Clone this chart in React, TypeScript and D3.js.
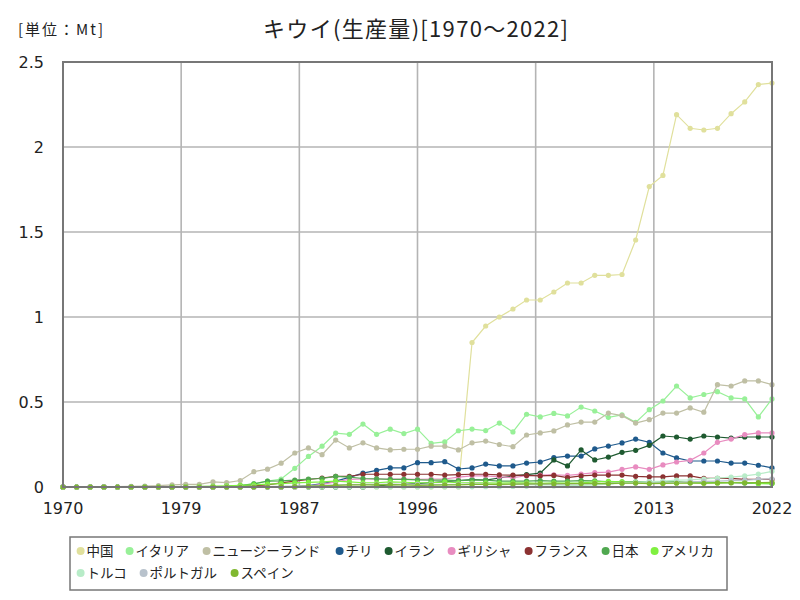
import React from "react";
import * as d3 from "d3";

const years: number[] = d3.range(1970, 2023);

const seriesNames: string[] = ["中国", "イタリア", "ニュージーランド", "チリ", "イラン", "ギリシャ", "フランス", "日本", "アメリカ", "トルコ", "ポルトガル", "スペイン"];
const seriesColors: string[] = ["#e0e09c", "#98f098", "#bfbfa4", "#1f5a8c", "#1e5a30", "#e88cc0", "#8c3232", "#50a850", "#80f040", "#b8ecc8", "#b8c2cc", "#80b830"];

const china: number[] = [
  0, 0, 0, 0, 0, 0, 0, 0, 0, 0,
  0, 0, 0, 0, 0, 0, 0, 0, 0, 0,
  0, 0, 0, 0, 0, 0, 0, 0, 0, 0,
  0.85, 0.947, 1.0, 1.047, 1.1, 1.1, 1.147, 1.2, 1.2, 1.245,
  1.245, 1.25, 1.453, 1.767, 1.833, 2.19, 2.11, 2.1, 2.11, 2.196,
  2.265, 2.367, 2.376,
];
const italy: number[] = [
  0, 0, 0, 0, 0, 0, 0, 0, 0, 0.001,
  0.002, 0.003, 0.004, 0.008, 0.02, 0.035, 0.047, 0.11, 0.18, 0.24,
  0.317, 0.31, 0.37, 0.31, 0.34, 0.314, 0.34, 0.257, 0.265, 0.331,
  0.341, 0.332, 0.376, 0.324, 0.428, 0.412, 0.433, 0.418, 0.47, 0.447,
  0.41, 0.424, 0.38, 0.455, 0.506, 0.594, 0.524, 0.544, 0.561, 0.524,
  0.518, 0.412, 0.518,
];
const newZealand: number[] = [
  0.001, 0.001, 0.002, 0.002, 0.003, 0.004, 0.006, 0.008, 0.012, 0.016,
  0.016, 0.03, 0.026, 0.038, 0.09, 0.105, 0.14, 0.2, 0.23, 0.19,
  0.276, 0.23, 0.26, 0.23, 0.218, 0.222, 0.222, 0.24, 0.24, 0.218,
  0.26, 0.27, 0.25, 0.237, 0.306, 0.318, 0.33, 0.365, 0.382, 0.382,
  0.435, 0.42, 0.376, 0.396, 0.435, 0.435, 0.465, 0.44, 0.602, 0.594,
  0.624, 0.624, 0.602,
];
const chile: number[] = [
  0, 0, 0, 0, 0, 0, 0, 0, 0, 0,
  0, 0, 0, 0, 0, 0, 0, 0.003, 0.008, 0.02,
  0.035, 0.057, 0.082, 0.098, 0.112, 0.112, 0.143, 0.143, 0.149, 0.106,
  0.112, 0.135, 0.124, 0.124, 0.141, 0.147, 0.173, 0.182, 0.182, 0.224,
  0.241, 0.259, 0.282, 0.263, 0.2, 0.171, 0.153, 0.153, 0.153, 0.141,
  0.141, 0.128, 0.112,
];
const iran: number[] = [
  0, 0, 0, 0, 0, 0, 0, 0, 0, 0,
  0, 0, 0, 0, 0, 0, 0, 0, 0, 0,
  0, 0, 0, 0.005, 0.014, 0.016, 0.02, 0.026, 0.032, 0.038,
  0.044, 0.04, 0.053, 0.065, 0.073, 0.082, 0.159, 0.124, 0.218, 0.159,
  0.176, 0.204, 0.216, 0.245, 0.3, 0.294, 0.282, 0.3, 0.294, 0.288,
  0.294, 0.294, 0.294,
];
const greece: number[] = [
  0, 0, 0, 0, 0, 0, 0, 0, 0, 0,
  0, 0, 0, 0, 0, 0, 0, 0, 0.005, 0.015,
  0.03, 0.045, 0.047, 0.047, 0.047, 0.047, 0.045, 0.047, 0.047, 0.058,
  0.066, 0.066, 0.06, 0.055, 0.066, 0.07, 0.072, 0.068, 0.076, 0.085,
  0.088, 0.104, 0.118, 0.104, 0.13, 0.147, 0.157, 0.2, 0.263, 0.282,
  0.308, 0.318, 0.318,
];
const france: number[] = [
  0, 0, 0, 0, 0, 0, 0, 0, 0, 0.001,
  0.001, 0.002, 0.003, 0.005, 0.008, 0.013, 0.024, 0.034, 0.044, 0.053,
  0.063, 0.063, 0.075, 0.075, 0.075, 0.075, 0.075, 0.075, 0.07, 0.073,
  0.075, 0.075, 0.071, 0.07, 0.068, 0.065, 0.068, 0.055, 0.065, 0.07,
  0.07, 0.07, 0.063, 0.06, 0.06, 0.065, 0.065, 0.051, 0.051, 0.051,
  0.045, 0.045, 0.045,
];
const japan: number[] = [
  0, 0, 0, 0, 0, 0, 0, 0, 0, 0,
  0.001, 0.002, 0.004, 0.008, 0.018, 0.034, 0.036, 0.04, 0.047, 0.05,
  0.063, 0.058, 0.05, 0.048, 0.045, 0.045, 0.042, 0.04, 0.04, 0.038,
  0.04, 0.04, 0.035, 0.035, 0.035, 0.037, 0.035, 0.035, 0.037, 0.036,
  0.03, 0.03, 0.03, 0.032, 0.03, 0.03, 0.027, 0.03, 0.026, 0.025,
  0.023, 0.021, 0.02,
];
const usa: number[] = [
  0, 0, 0, 0, 0, 0, 0.001, 0.001, 0.002, 0.003,
  0.004, 0.005, 0.007, 0.01, 0.013, 0.017, 0.02, 0.024, 0.027, 0.03,
  0.035, 0.03, 0.025, 0.025, 0.03, 0.028, 0.025, 0.025, 0.03, 0.025,
  0.025, 0.024, 0.023, 0.025, 0.024, 0.022, 0.025, 0.023, 0.024, 0.03,
  0.033, 0.03, 0.026, 0.026, 0.025, 0.027, 0.025, 0.023, 0.024, 0.026,
  0.028, 0.02, 0.02,
];
const turkey: number[] = [
  0, 0, 0, 0, 0, 0, 0, 0, 0, 0,
  0, 0, 0, 0, 0, 0, 0, 0, 0, 0,
  0, 0, 0, 0, 0, 0, 0, 0.001, 0.001, 0.001,
  0.001, 0.002, 0.002, 0.003, 0.004, 0.005, 0.006, 0.008, 0.01, 0.012,
  0.017, 0.022, 0.027, 0.032, 0.035, 0.04, 0.042, 0.047, 0.052, 0.058,
  0.066, 0.076, 0.092,
];
const portugal: number[] = [
  0, 0, 0, 0, 0, 0, 0, 0, 0, 0,
  0, 0, 0, 0, 0.001, 0.002, 0.004, 0.006, 0.008, 0.01,
  0.012, 0.014, 0.015, 0.016, 0.017, 0.016, 0.015, 0.016, 0.014, 0.016,
  0.018, 0.016, 0.013, 0.015, 0.017, 0.015, 0.016, 0.017, 0.018, 0.02,
  0.02, 0.022, 0.022, 0.024, 0.025, 0.025, 0.03, 0.033, 0.035, 0.038,
  0.04, 0.045, 0.048,
];
const spain: number[] = [
  0, 0, 0, 0, 0, 0, 0, 0, 0, 0,
  0, 0, 0, 0, 0, 0.001, 0.002, 0.003, 0.005, 0.007,
  0.01, 0.012, 0.012, 0.013, 0.014, 0.012, 0.01, 0.011, 0.012, 0.013,
  0.015, 0.016, 0.016, 0.017, 0.018, 0.018, 0.019, 0.02, 0.02, 0.021,
  0.02, 0.022, 0.023, 0.02, 0.021, 0.022, 0.023, 0.022, 0.024, 0.025,
  0.025, 0.026, 0.027,
];

const seriesValues: number[][] = [china, italy, newZealand, chile, iran, greece, france, japan, usa, turkey, portugal, spain];

const yTicks: number[] = [0, 0.5, 1, 1.5, 2, 2.5];
const xTickCount = 6;

const W = 800;
const H = 600;
const M = { left: 63, right: 772, top: 62, bottom: 487 };
const FONT = "'Noto Sans CJK JP', 'Noto Sans', sans-serif";
const NUMFONT = "'DejaVu Sans', 'Liberation Sans', sans-serif";

export default function App() {
  const x = d3.scaleLinear().domain([1970, 2022]).range([M.left, M.right]);
  const y = d3.scaleLinear().domain([0, 2.5]).range([M.bottom, M.top]);
  const xTickVals = d3.range(xTickCount + 1).map((k) => 1970 + (k * (2022 - 1970)) / xTickCount);

  const line = d3
    .line<[number, number]>()
    .x((d) => x(d[0]))
    .y((d) => y(d[1]));

  // legend layout
  const charW = 14;
  const legendItems: { name: string; color: string; cx: number; row: number }[] = [];
  let cx = 80.6;
  let row = 0;
  const maxX = 720;
  seriesNames.forEach((name, i) => {
    const w = 7 + name.length * charW;
    if (cx + w > maxX) {
      row += 1;
      cx = 80.6;
    }
    legendItems.push({ name, color: seriesColors[i], cx, row });
    cx += w + 14;
  });

  return (
    <svg
      width={W}
      height={H}
      style={{ position: "absolute", left: 0, top: 0, background: "#fff" }}
      xmlns="http://www.w3.org/2000/svg"
    >
      <rect x={0} y={0} width={W} height={H} fill="#fff" />
      <text x={18} y={35} fontFamily={FONT} fontSize={15} fill="#222" textLength={85} lengthAdjust="spacing">
        [単位：Mt]
      </text>
      <text x={263} y={37} fontFamily={FONT} fontSize={22} fill="#222" textLength={305} lengthAdjust="spacing">
        キウイ(生産量)[1970～2022]
      </text>

      {/* grid */}
      {xTickVals.map((v, i) => (
        <line key={"gx" + i} x1={x(v)} x2={x(v)} y1={M.top} y2={M.bottom} stroke="#b4b4b4" strokeWidth={1.6} />
      ))}
      {yTicks.map((v, i) => (
        <line key={"gy" + i} x1={M.left} x2={M.right} y1={y(v)} y2={y(v)} stroke="#b4b4b4" strokeWidth={1.6} />
      ))}

      {/* series */}
      {seriesValues.map((vals, si) => {
        const pts: [number, number][] = years.map((yr, i) => [yr, vals[i]]);
        return (
          <g key={"s" + si}>
            <path d={line(pts) || ""} fill="none" stroke={seriesColors[si]} strokeWidth={1.2} />
            {pts.map((p, i) => (
              <circle key={i} cx={x(p[0])} cy={y(p[1])} r={2.6} fill={seriesColors[si]} />
            ))}
          </g>
        );
      })}

      {/* frame */}
      <rect x={M.left} y={M.top} width={M.right - M.left} height={M.bottom - M.top} fill="none" stroke="#777" strokeWidth={2} />

      {/* y labels */}
      {yTicks.map((v, i) => (
        <text key={"yl" + i} x={44} y={y(v) + 6} textAnchor="end" fontFamily={NUMFONT} fontSize={16} fill="#222">
          {String(v)}
        </text>
      ))}
      {/* x labels */}
      {xTickVals.map((v, i) => (
        <text key={"xl" + i} x={x(v)} y={514} textAnchor="middle" fontFamily={NUMFONT} fontSize={16} fill="#222">
          {Math.round(v)}
        </text>
      ))}

      {/* legend */}
      <rect x={70} y={537} width={657} height={53} fill="#fff" stroke="#777" strokeWidth={1.5} />
      {legendItems.map((it, i) => (
        <g key={"lg" + i}>
          <circle cx={it.cx} cy={551 + it.row * 22} r={4} fill={it.color} />
          <text x={it.cx + 6} y={556 + it.row * 22} fontFamily={FONT} fontSize={13.5} fill="#222">
            {it.name}
          </text>
        </g>
      ))}
    </svg>
  );
}
